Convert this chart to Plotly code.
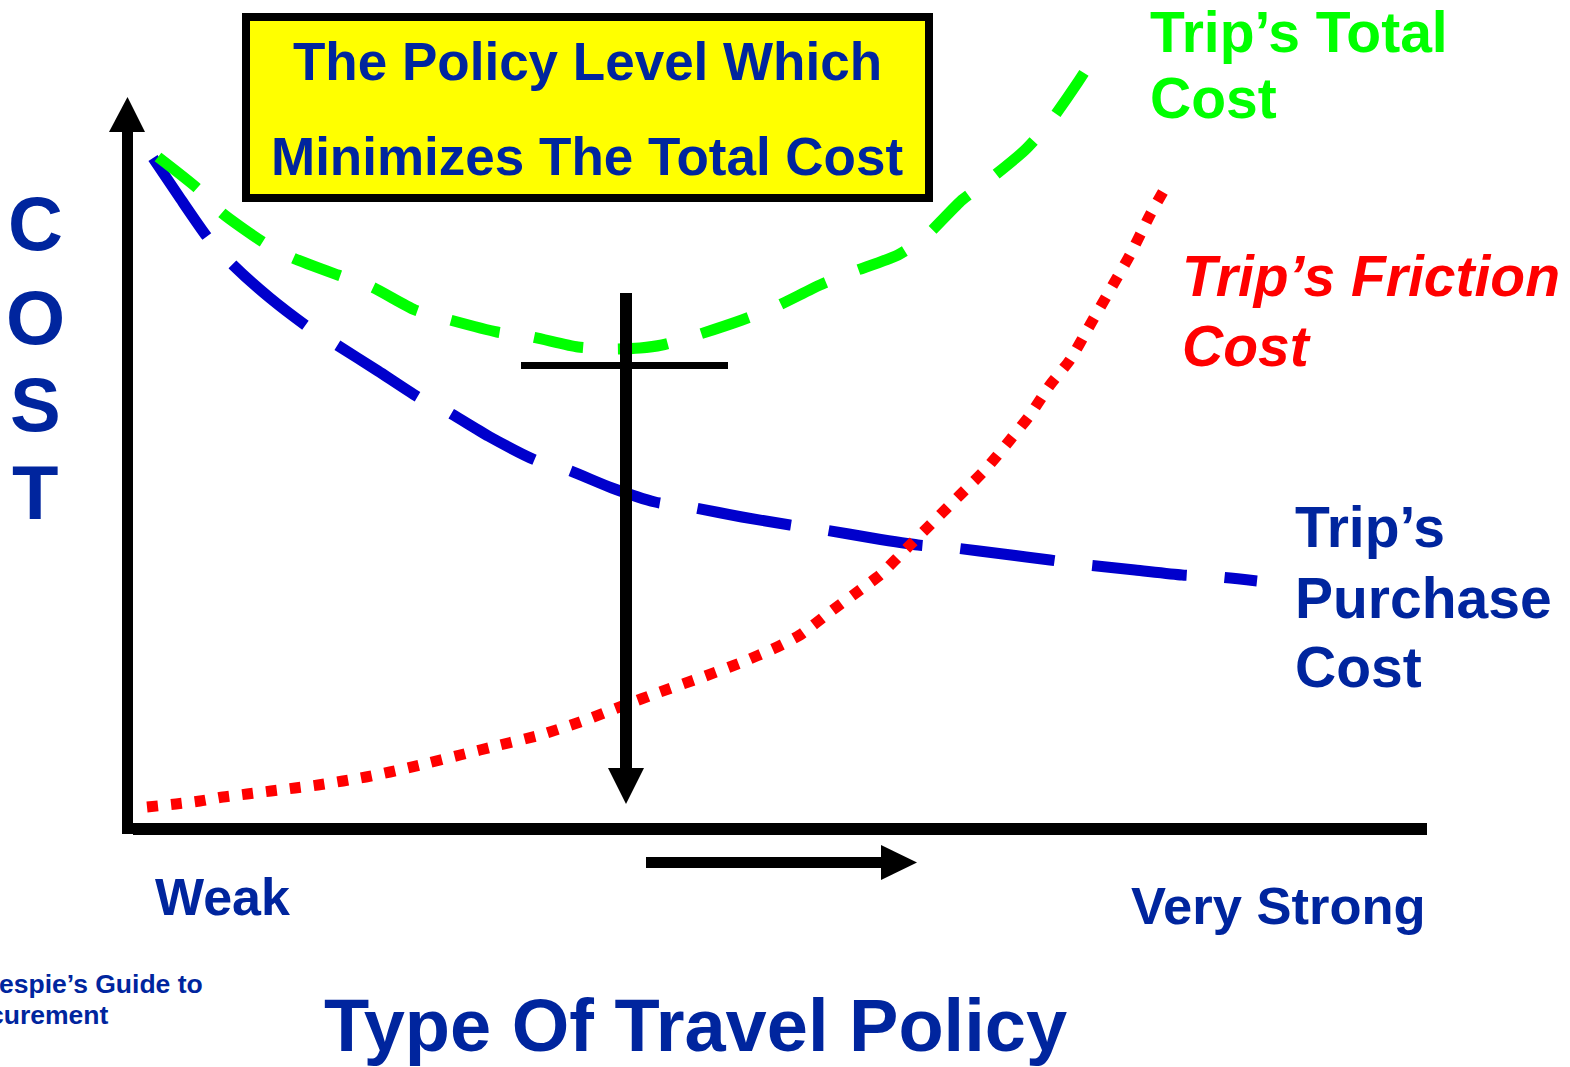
import plotly.graph_objects as go

# Canvas size (the chart is drawn in pixel-like units on hidden axes)
W, H = 1570, 1067

# Curve samples: policy strength (x) vs. cost position (y, measured downward)
purchase_x = [153, 180, 208, 233, 270, 308, 337, 378, 418, 448, 490, 535, 568, 612, 655,
              695, 742, 790, 825, 872, 918, 955, 1003, 1050, 1087, 1135, 1182, 1218, 1257]
purchase_y = [158, 198, 238, 265, 298, 327, 345, 371, 397, 412, 437, 460, 470, 488, 502,
              508, 517, 525, 530, 538, 545, 548, 554, 560, 565, 570, 575, 577, 581]

total_x = [158, 197, 222, 263, 293, 338, 372, 415, 450, 497, 532, 578, 615, 640, 662,
           697, 742, 775, 820, 852, 898, 925, 962, 985, 1025, 1050, 1078, 1101]
total_y = [157, 188, 213, 242, 258, 275, 287, 310, 320, 332, 337, 347, 349, 348, 345,
           335, 320, 307, 285, 272, 255, 237, 200, 183, 150, 122, 82, 46]

friction_x = [147, 176, 200, 223, 247, 271, 295, 318, 343, 366, 390, 420, 460, 500, 540,
              580, 625, 660, 700, 740, 775, 800, 830, 860, 880, 910, 935, 960, 985,
              1010, 1030, 1050, 1070, 1090, 1110, 1130, 1150, 1168]
friction_y = [807, 804, 801, 797, 794, 791, 788, 785, 781, 777, 772, 765, 755, 745, 735,
              722, 705, 692, 678, 663, 648, 635, 612, 590, 575, 545, 520, 495, 470,
              440, 415, 385, 360, 325, 290, 255, 215, 183]

# Axis frame and pointer geometry
y_axis_x, y_axis_top, y_axis_bottom = 127.5, 128, 834
x_axis_y, x_axis_left, x_axis_right = 829, 122, 1427
marker_x, marker_top, marker_bottom = 626, 293, 772
bar_y, bar_left, bar_right = 365.5, 521, 728
dir_y, dir_left, dir_right = 862.5, 646, 884

TEXT_BLUE = "#00259E"
FONT = "Liberation Sans, Arial, sans-serif"

fig = go.Figure()

def line(xs, ys, color, width, dash="solid"):
    fig.add_trace(go.Scatter(x=xs, y=ys, mode="lines", hoverinfo="skip", showlegend=False,
                             line=dict(color=color, width=width, dash=dash, shape="spline",
                                       smoothing=0.6)))

def tri(xs, ys):
    fig.add_trace(go.Scatter(x=xs, y=ys, mode="lines", fill="toself", fillcolor="black",
                             line=dict(width=0, color="black"), hoverinfo="skip",
                             showlegend=False))

# Cost curves
line(purchase_x, purchase_y, "#0000CC", 11, "95px,38px")
line(total_x, total_y, "#00FF00", 11, "50px,35px")
line(friction_x, friction_y, "#FF0000", 11, "11px,13px")

# Axes with arrowheads
fig.add_trace(go.Scatter(x=[y_axis_x, y_axis_x], y=[y_axis_bottom, y_axis_top], mode="lines",
                         line=dict(color="black", width=11), hoverinfo="skip", showlegend=False))
tri([109, 145, y_axis_x, 109], [132, 132, 97, 132])
fig.add_trace(go.Scatter(x=[x_axis_left + 11, x_axis_right], y=[x_axis_y, x_axis_y], mode="lines",
                         line=dict(color="black", width=12), hoverinfo="skip", showlegend=False))

# Minimum-cost marker: vertical arrow with crossbar
fig.add_trace(go.Scatter(x=[marker_x, marker_x], y=[marker_top, marker_bottom], mode="lines",
                         line=dict(color="black", width=12), hoverinfo="skip", showlegend=False))
tri([608, 644, marker_x, 608], [768, 768, 804, 768])
fig.add_trace(go.Scatter(x=[bar_left, bar_right], y=[bar_y, bar_y], mode="lines",
                         line=dict(color="black", width=7), hoverinfo="skip", showlegend=False))

# Direction arrow under the horizontal axis
fig.add_trace(go.Scatter(x=[dir_left, dir_right], y=[dir_y, dir_y], mode="lines",
                         line=dict(color="black", width=11), hoverinfo="skip", showlegend=False))
tri([881, 881, 917, 881], [845, 880, dir_y, 845])

# Highlight box
fig.add_shape(type="rect", xref="x", yref="y", x0=246, x1=929, y0=17, y1=198,
              line=dict(color="black", width=8), fillcolor="#FFFF00", layer="below")

def label(text, x, y, size, color, xanchor="left", italic=False, xshift=0):
    fig.add_annotation(x=x, y=y, xref="x", yref="y", text=text, showarrow=False,
                       xanchor=xanchor, yanchor="middle", xshift=xshift,
                       font=dict(family=FONT, size=size, color=color, weight="bold",
                                 style="italic" if italic else "normal"))

label("The Policy Level Which", 587, 61, 53, TEXT_BLUE, "center")
label("Minimizes The Total Cost", 587, 156, 53, TEXT_BLUE, "center")

for ch, cy in zip(["C", "O", "S", "T"], [223, 317, 404, 492]):
    label(ch, 35, cy, 76, TEXT_BLUE, "center")

label("Trip’s Total", 1148, 32, 57, "#00FF00")
label("Cost", 1148, 98, 57, "#00FF00")
label("Trip’s Friction", 1180, 276, 57, "#FF0000", italic=True)
label("Cost", 1180, 346, 57, "#FF0000", italic=True)
label("Trip’s", 1293, 527, 57, TEXT_BLUE)
label("Purchase", 1293, 598, 57, TEXT_BLUE)
label("Cost", 1293, 667, 57, TEXT_BLUE)

label("Weak", 153, 897, 52, TEXT_BLUE)
label("Very Strong", 1129, 905, 52.5, TEXT_BLUE)
label("Type Of Travel Policy", 695, 1025, 74, TEXT_BLUE, "center")
# Source credit at the lower-left page edge
label("espie’s Guide to", 0, 984, 26.5, TEXT_BLUE, xshift=-3)
label("curement", 0, 1015, 26.5, TEXT_BLUE, xshift=-13)

fig.update_layout(
    width=W, height=H, margin=dict(l=0, r=0, t=0, b=0),
    paper_bgcolor="white", plot_bgcolor="white",
    xaxis=dict(range=[0, W], visible=False, fixedrange=True),
    yaxis=dict(range=[H, 0], visible=False, fixedrange=True),
)

fig.write_html("out.html")
